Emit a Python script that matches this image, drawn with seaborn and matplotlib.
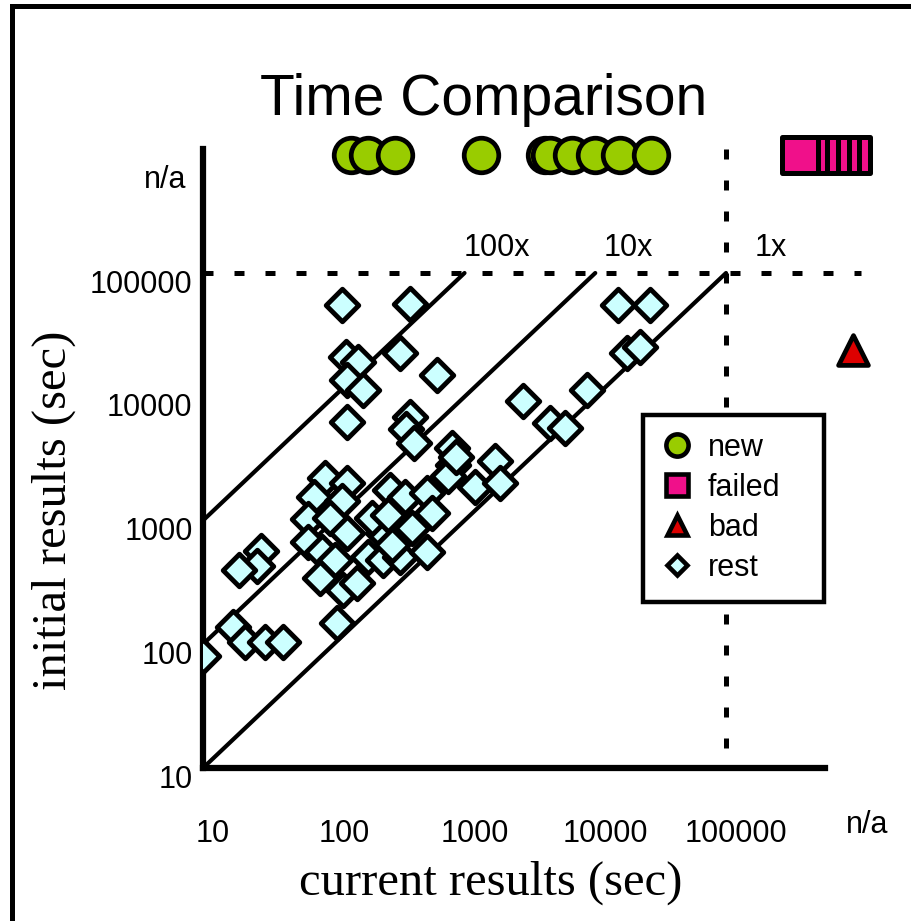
import numpy as np
import pandas as pd
import matplotlib
matplotlib.use("Agg")
import matplotlib.pyplot as plt
import seaborn as sns
from matplotlib.lines import Line2D
from matplotlib.patches import Rectangle
from matplotlib.ticker import NullLocator
from matplotlib.transforms import ScaledTranslation

# value used for "n/a" (no result) on both axes
NA = 10 ** 5.95

# new: no initial result, only current
new_current = [135, 183, 294, 1340, 4130, 4510, 6640, 9950, 15450, 26700]

# failed: no current result (drawn right to left so the left one is on top)
failed_current = [912000, 764000, 630000, 519000, 428000, 368000]

# bad: current result n/a, initial result known
bad_current = [935000]
bad_initial = [23900]

# rest: both results known
rest_current = [116, 383, 124, 153, 321, 126, 167, 616, 126, 383, 357, 411,
                802, 817, 748, 1203, 1710, 1869, 861, 86, 126, 71, 116, 64,
                94, 126, 64, 81, 102, 79, 118, 151, 183, 238, 196, 269, 351,
                517, 564, 397, 238, 321, 517, 260, 279, 28, 26, 19, 17, 21,
                30, 41, 10, 106, 14930, 26230, 17490, 21990, 8650, 2800,
                4510, 5870]
rest_initial = [55100, 56100, 20960, 19100, 22580, 13650, 11340, 14990, 6250,
                6860, 5490, 4230, 3850, 2810, 2290, 1865, 3030, 2010, 3260,
                2210, 2010, 1550, 1440, 1030, 1050, 793, 670, 556, 480, 343,
                274, 313, 507, 793, 1050, 1765, 1550, 1670, 1150, 870, 480,
                507, 556, 1107, 634, 567, 429, 398, 138, 104, 104, 104, 80,
                149, 55100, 55100, 22580, 25240, 11340, 9240, 6130, 5590]

tick_vals = [10, 100, 1000, 10000, 100000]
tick_labels = ["10", "100", "1000", "10000", "100000"]

sns.set_style("white")
plt.rcParams["font.family"] = ["Liberation Sans", "DejaVu Sans"]
plt.rcParams["text.color"] = "black"
plt.rcParams["xtick.color"] = "black"
plt.rcParams["ytick.color"] = "black"
plt.rcParams["xtick.labelcolor"] = "black"
plt.rcParams["ytick.labelcolor"] = "black"

W, H = 912, 921
fig = plt.figure(figsize=(W / 100, H / 100), dpi=100)
ax = fig.add_axes([203 / W, 1 - 768 / H, 693 / W, 643.5 / H])

rest = pd.DataFrame({"current": rest_current, "initial": rest_initial})
new = pd.DataFrame({"current": new_current, "initial": [NA] * len(new_current)})
failed = pd.DataFrame({"current": failed_current, "initial": [NA] * len(failed_current)})
bad = pd.DataFrame({"current": bad_current, "initial": bad_initial})

# reference lines 1x, 10x, 100x
ax.plot([10, 1e5], [10, 1e5], color="black", lw=3, zorder=2)
ax.plot([10, 1e4], [100, 1e5], color="black", lw=3, zorder=2)
ax.plot([10, 1e3], [1000, 1e5], color="black", lw=3, zorder=2)
# n/a separators
ax.plot([10, 10 ** 6.03], [1e5, 1e5], color="black", lw=3.6,
        ls=(0, (2, 4.2)), zorder=1, clip_on=False)
ax.plot([1e5, 1e5], [1e6, 10], color="black", lw=3.6,
        ls=(0, (2, 4.2)), zorder=1, clip_on=False)

sns.scatterplot(data=rest, x="current", y="initial", ax=ax, marker="D", s=275,
                color="#CCFFFF", edgecolor="black", linewidth=3.5, zorder=3)
sns.scatterplot(data=new, x="current", y="initial", ax=ax, marker="o", s=620,
                color="#99CC00", edgecolor="black", linewidth=3.4, zorder=3,
                clip_on=False)
sns.scatterplot(data=failed, x="current", y="initial", ax=ax, marker="s", s=680,
                color="#F0108A", edgecolor="black", linewidth=3.6, zorder=3,
                clip_on=False)
sns.scatterplot(data=bad, x="current", y="initial", ax=ax, marker="^", s=460,
                color="#DD0000", edgecolor="black", linewidth=3.4, zorder=3,
                clip_on=False)

ax.set_xscale("log")
ax.set_yscale("log")
ax.set_xlim(10, 10 ** 6.3)
ax.set_ylim(10, 10 ** 6.2)
ax.set_xlabel("")
ax.set_ylabel("")

ax.set_xticks(tick_vals)
ax.set_xticklabels(tick_labels)
ax.set_yticks(tick_vals + [NA])
ax.set_yticklabels(tick_labels + ["n/a"])
ax.xaxis.set_minor_locator(NullLocator())
ax.yaxis.set_minor_locator(NullLocator())
ax.tick_params(axis="y", direction="out", length=6, width=3.6, pad=1.5,
               labelsize=22, colors="black")
ax.tick_params(axis="x", direction="out", length=7, width=3.6, pad=30,
               labelsize=22, colors="black")

for side in ["top", "right"]:
    ax.spines[side].set_visible(False)
ax.spines["left"].set_bounds(10, 1e6)
ax.spines["bottom"].set_bounds(10, 10 ** 5.76)
for side in ["left", "bottom"]:
    ax.spines[side].set_linewidth(4.5)
    ax.spines[side].set_color("black")

# label offsets as in the original
for lab in ax.get_xticklabels():
    lab.set_transform(lab.get_transform() + ScaledTranslation(0.10, 0, fig.dpi_scale_trans))
for lab in ax.get_yticklabels():
    if lab.get_text() == "n/a":
        lab.set_transform(lab.get_transform() + ScaledTranslation(-0.06, -0.21, fig.dpi_scale_trans))
    else:
        lab.set_transform(lab.get_transform() + ScaledTranslation(0, -0.08, fig.dpi_scale_trans))

ax.text(1775, 137000, "100x", ha="center", va="baseline", fontsize=22)
ax.text(17800, 137000, "10x", ha="center", va="baseline", fontsize=22)
ax.text(220800, 137000, "1x", ha="center", va="baseline", fontsize=22)

fig.text(484 / W, 1 - 115 / H, "Time Comparison", ha="center", va="baseline",
         fontsize=41, color="black")
fig.text(491 / W, 1 - 895 / H, "current results (sec)", ha="center",
         va="baseline", fontsize=35, family=["Liberation Serif", "DejaVu Serif"])
fig.text(54 / W, 1 - 510 / H, "initial results (sec)", ha="center",
         va="center", rotation=90, fontsize=35,
         family=["Liberation Serif", "DejaVu Serif"])
fig.text(867 / W, 1 - 825 / H, "n/a", ha="center", va="center", fontsize=22)

# legend with its own frame
frame = Rectangle((643 / W, 1 - 602 / H), 181 / W, 187 / H,
                  transform=fig.transFigure, facecolor="white",
                  edgecolor="black", lw=3.2, zorder=10, clip_on=False)
ax.add_patch(frame)
handles = [
    Line2D([], [], ls="", marker="o", ms=16, mfc="#99CC00", mec="black", mew=3.3),
    Line2D([], [], ls="", marker="s", ms=16, mfc="#F0108A", mec="black", mew=3.3),
    Line2D([], [], ls="", marker="^", ms=15, mfc="#DD0000", mec="black", mew=3.3),
    Line2D([], [], ls="", marker="D", ms=10.5, mfc="#CCFFFF", mec="black", mew=3.3),
]
leg = ax.legend(handles, ["new", "failed", "bad", "rest"], loc="center left",
                bbox_to_anchor=(658 / W, 1 - 508 / H),
                bbox_transform=fig.transFigure, frameon=False, fontsize=22,
                borderpad=0, borderaxespad=0, handlelength=1.25,
                handletextpad=0.39, labelspacing=0.33)
leg.set_zorder(11)
for t in leg.get_texts():
    t.set_color("black")

fig.add_artist(Rectangle((12.5 / W, -0.1), 1.2, 1.1 - 6.5 / H,
                         transform=fig.transFigure, fill=False,
                         edgecolor="black", lw=3.6))

fig.savefig("out.png", dpi=100)
